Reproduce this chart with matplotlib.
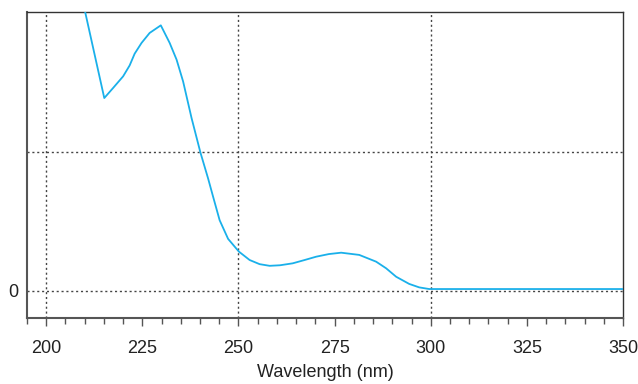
import matplotlib
matplotlib.use('Agg')
import matplotlib.pyplot as plt
from matplotlib.ticker import MultipleLocator

# UV spectrum
wavelength = [209.7, 215.1, 217.4, 220.0, 221.7, 223.0, 224.8, 226.9, 229.8, 232.1,
              233.9, 235.6, 237.8, 240.1, 242.1, 243.4, 245.1, 247.3, 250.1, 252.9,
              255.5, 258.1, 260.8, 264.1, 267.2, 270.2, 273.5, 276.7, 281.4, 285.8,
              288.4, 291.0, 294.4, 297.0, 299.6, 304.8, 325.0, 350.0]
absorbance = [2.07, 1.394, 1.467, 1.551, 1.630, 1.715, 1.793, 1.865, 1.920, 1.793,
              1.672, 1.514, 1.249, 1.000, 0.812, 0.680, 0.510, 0.375, 0.283, 0.222,
              0.192, 0.180, 0.184, 0.198, 0.222, 0.246, 0.265, 0.275, 0.259, 0.210,
              0.162, 0.101, 0.049, 0.024, 0.012, 0.012, 0.012, 0.012]

plt.rcParams['font.family'] = ['Liberation Sans', 'DejaVu Sans']

fig = plt.figure(figsize=(6.38, 3.84), dpi=100)
ax = fig.add_axes([0.0423, 0.171, 0.9342, 0.799])

ax.plot(wavelength, absorbance, color='#1ab0ea', lw=1.3, zorder=3)

ax.set_xlim(195, 350)
ax.set_ylim(-0.2, 2.02)

ax.set_xticks([200, 225, 250, 275, 300, 325, 350])
ax.xaxis.set_minor_locator(MultipleLocator(5))
ax.set_yticks([0])
ax.set_yticklabels(['0'])
ax.tick_params(axis='x', which='major', direction='out', length=6, width=1,
               color='#555555', labelsize=13, pad=9.5, labelcolor='#222222')
ax.tick_params(axis='x', which='minor', direction='out', length=4.5, width=1,
               color='#555555')
ax.tick_params(axis='y', length=0, labelsize=13, pad=6, labelcolor='#222222')

grid_kw = dict(color='#444444', lw=1.0, linestyle=(0, (1.5, 2.0)), zorder=1)
for gx in [200, 250, 300]:
    ax.axvline(gx, **grid_kw)
for gy in [0, 1]:
    ax.axhline(gy, **grid_kw)

for side in ['left', 'bottom']:
    ax.spines[side].set_color('#555555')
    ax.spines[side].set_linewidth(1.5)
for side in ['top', 'right']:
    ax.spines[side].set_color('#333333')
    ax.spines[side].set_linewidth(1.0)

ax.set_xlabel('Wavelength (nm)', fontsize=13, color='#222222', labelpad=5)

fig.savefig('out.png', dpi=100)
